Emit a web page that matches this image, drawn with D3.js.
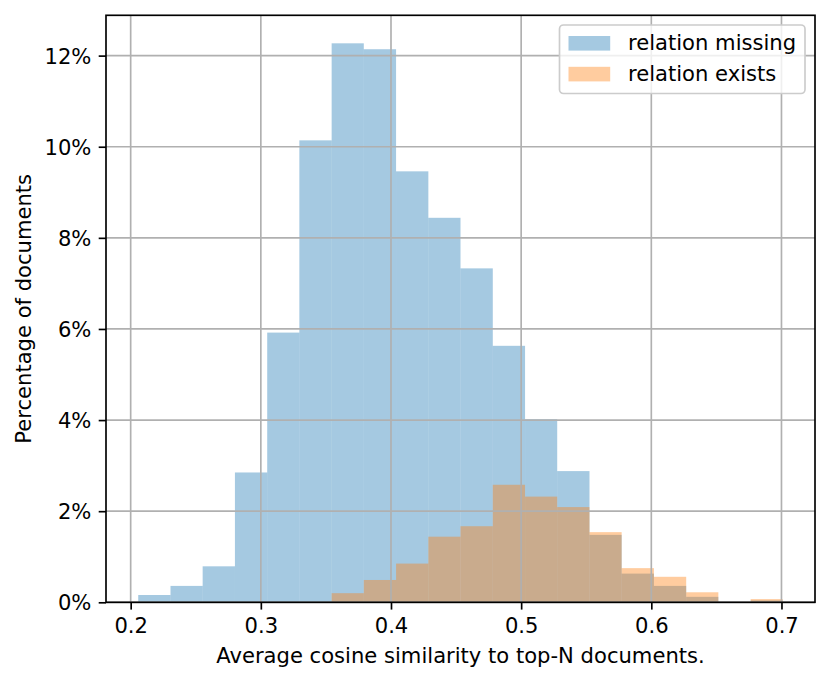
<!DOCTYPE html>
<html>
<head>
<meta charset="utf-8">
<script src="https://cdn.jsdelivr.net/npm/d3@7/dist/d3.min.js"></script>
<style>
  html, body { margin: 0; padding: 0; background: #ffffff; }
  svg { display: block; font-family: "DejaVu Sans", sans-serif; }
</style>
</head>
<body>
<svg id="chart" width="831" height="682"></svg>
<script>
// ---- data ----
const binEdges = [0.2058, 0.2306, 0.2553, 0.2801, 0.3049, 0.3296, 0.3544, 0.3791, 0.4039, 0.4287,
                  0.4534, 0.4782, 0.5030, 0.5277, 0.5525, 0.5772, 0.6020, 0.6268, 0.6515, 0.6763, 0.7010];
const missingValues = [0.16, 0.36, 0.79, 2.85, 5.92, 10.14, 12.27, 12.14, 9.46, 8.44,
                       7.33, 5.63, 4.02, 2.88, 1.48, 0.63, 0.36, 0.12, 0, 0.04];
const existsValues = [0, 0, 0, 0, 0, 0, 0.20, 0.49, 0.85, 1.44,
                      1.67, 2.58, 2.32, 2.09, 1.54, 0.75, 0.56, 0.22, 0, 0.07];
const seriesNames = ["relation missing", "relation exists"];
const xTicks = [0.2, 0.3, 0.4, 0.5, 0.6, 0.7];
const yTicks = [0, 2, 4, 6, 8, 10, 12];
const xLabel = "Average cosine similarity to top-N documents.";
const yLabel = "Percentage of documents";

// ---- layout ----
const fs = 21.1;
const lw = 1.67;
const L = 106, R = 815, T = 15.3, B = 602.3;
const svg = d3.select("#chart");

const x = d3.scaleLinear().domain([0.18104, 0.72576]).range([L, R]);
const y = d3.scaleLinear().domain([0, 12.885]).range([B, T]);

const colors = ["#1f77b4", "#ff7f0e"];
const series = [missingValues, existsValues];

// bars
series.forEach((vals, si) => {
  svg.append("g").selectAll("rect")
    .data(vals.map((v, i) => ({ v, x0: binEdges[i], x1: binEdges[i + 1] })))
    .join("rect")
    .attr("x", d => x(d.x0))
    .attr("width", d => x(d.x1) - x(d.x0))
    .attr("y", d => y(d.v))
    .attr("height", d => y(0) - y(d.v))
    .attr("fill", colors[si])
    .attr("fill-opacity", 0.4);
});

// grid (above bars, like matplotlib default)
const grid = svg.append("g");
grid.selectAll("line.gx").data(xTicks).join("line")
  .attr("x1", d => x(d)).attr("x2", d => x(d))
  .attr("y1", T).attr("y2", B)
  .attr("stroke", "#b0b0b0").attr("stroke-width", lw);
grid.selectAll("line.gy").data(yTicks).join("line")
  .attr("x1", L).attr("x2", R)
  .attr("y1", d => y(d)).attr("y2", d => y(d))
  .attr("stroke", "#b0b0b0").attr("stroke-width", lw);

// axes
const xAxis = d3.axisBottom(x).tickValues(xTicks).tickFormat(d3.format(".1f"))
  .tickSizeInner(7.3).tickSizeOuter(0).tickPadding(7.3);
const yAxis = d3.axisLeft(y).tickValues(yTicks).tickFormat(d => d + "%")
  .tickSizeInner(7.3).tickSizeOuter(0).tickPadding(7.3);

const gx = svg.append("g").attr("transform", `translate(0,${B})`).call(xAxis);
const gy = svg.append("g").attr("transform", `translate(${L},0)`).call(yAxis);
[gx, gy].forEach(g => {
  g.select(".domain").remove();
  g.selectAll(".tick line").attr("stroke", "#000").attr("stroke-width", lw);
  g.selectAll(".tick text").attr("fill", "#000")
    .style("font-family", "'DejaVu Sans', sans-serif").style("font-size", fs + "px");
});
gx.selectAll(".tick text").attr("dy", "0.76em");
gy.selectAll(".tick text").attr("dy", "0.36em");

// spines
svg.append("rect")
  .attr("x", L).attr("y", T).attr("width", R - L).attr("height", B - T)
  .attr("fill", "none").attr("stroke", "#000").attr("stroke-width", lw);

// axis labels
svg.append("text")
  .attr("x", (L + R) / 2).attr("y", 662.5)
  .attr("text-anchor", "middle")
  .style("font-size", fs + "px")
  .text(xLabel);
svg.append("text")
  .attr("transform", `translate(31,${(T + B) / 2}) rotate(-90)`)
  .attr("text-anchor", "middle")
  .style("font-size", fs + "px")
  .text(yLabel);

// legend
const leg = svg.append("g");
leg.append("rect")
  .attr("x", 559.5).attr("y", 25).attr("width", 245.5).attr("height", 68.5)
  .attr("rx", 4).attr("ry", 4)
  .attr("fill", "#ffffff").attr("fill-opacity", 0.8)
  .attr("stroke", "#cccccc").attr("stroke-width", lw);
seriesNames.forEach((name, i) => {
  const cy = 43.3 + i * 30.8;
  leg.append("rect")
    .attr("x", 568.5).attr("y", cy - 7.3).attr("width", 41.7).attr("height", 14.6)
    .attr("fill", colors[i]).attr("fill-opacity", 0.4);
  leg.append("text")
    .attr("x", 628).attr("y", cy + 6.6)
    .style("font-size", fs + "px")
    .text(name);
});
</script>
</body>
</html>
